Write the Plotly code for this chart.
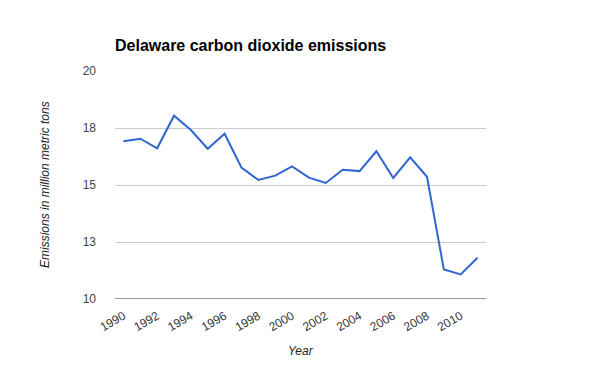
import plotly.graph_objects as go

years = list(range(1990, 2012))
emissions = [16.92, 17.03, 16.61, 18.04, 17.41, 16.59, 17.25, 15.76, 15.22, 15.41,
             15.82, 15.32, 15.09, 15.67, 15.61, 16.48, 15.31, 16.21, 15.36, 11.30,
             11.08, 11.81]
y_tick_vals = [10, 12.5, 15, 17.5, 20]
y_tick_text = ["10", "13", "15", "18", "20"]
x_tick_vals = list(range(1990, 2011, 2))
x_tick_text = [str(y) for y in x_tick_vals]

fig = go.Figure()
fig.add_trace(go.Scatter(
    x=years, y=emissions, mode="lines",
    line=dict(color="#3366cc", width=2),
    hoverinfo="x+y",
))

fig.update_layout(
    width=600, height=371,
    margin=dict(l=107, r=122, t=63, b=80, autoexpand=False),
    paper_bgcolor="white", plot_bgcolor="white",
    showlegend=False,
    font=dict(family="Liberation Sans, Arial, sans-serif", size=12, color="#444444"),
    title=dict(
        text="<b>Delaware carbon dioxide emissions</b>",
        x=107 / 600, xanchor="left", xref="container",
        y=1 - 37 / 371, yanchor="middle", yref="container",
        font=dict(size=16, color="#000000"),
    ),
    xaxis=dict(
        range=[1989.5, 2011.5],
        tickvals=x_tick_vals, ticktext=x_tick_text,
        tickangle=-30,
        showgrid=False, zeroline=False, showline=False,
        ticklabelstandoff=7,
        tickfont=dict(size=12, color="#333333"),
        fixedrange=True,
    ),
    yaxis=dict(
        range=[10, 20],
        tickvals=y_tick_vals, ticktext=y_tick_text,
        showgrid=True, gridcolor="#cccccc", gridwidth=1,
        zeroline=False, showline=False,
        ticklabelstandoff=18,
        tickfont=dict(size=12, color="#444444"),
        fixedrange=True,
    ),
    shapes=[dict(type="line", xref="paper", yref="y", x0=0, x1=1, y0=10, y1=10,
                 line=dict(color="#333333", width=1))],
    annotations=[
        dict(text="<i>Year</i>", xref="paper", yref="paper", x=0.5, y=-52 / 228,
             xanchor="center", yanchor="middle", showarrow=False,
             font=dict(size=12, color="#222222")),
        dict(text="<i>Emissions in million metric tons</i>", xref="paper", yref="paper",
             x=(45 - 115) / 371, y=0.5, xanchor="center", yanchor="middle",
             textangle=-90, showarrow=False,
             font=dict(size=12, color="#222222")),
    ],
)

fig.write_html("out.html")
